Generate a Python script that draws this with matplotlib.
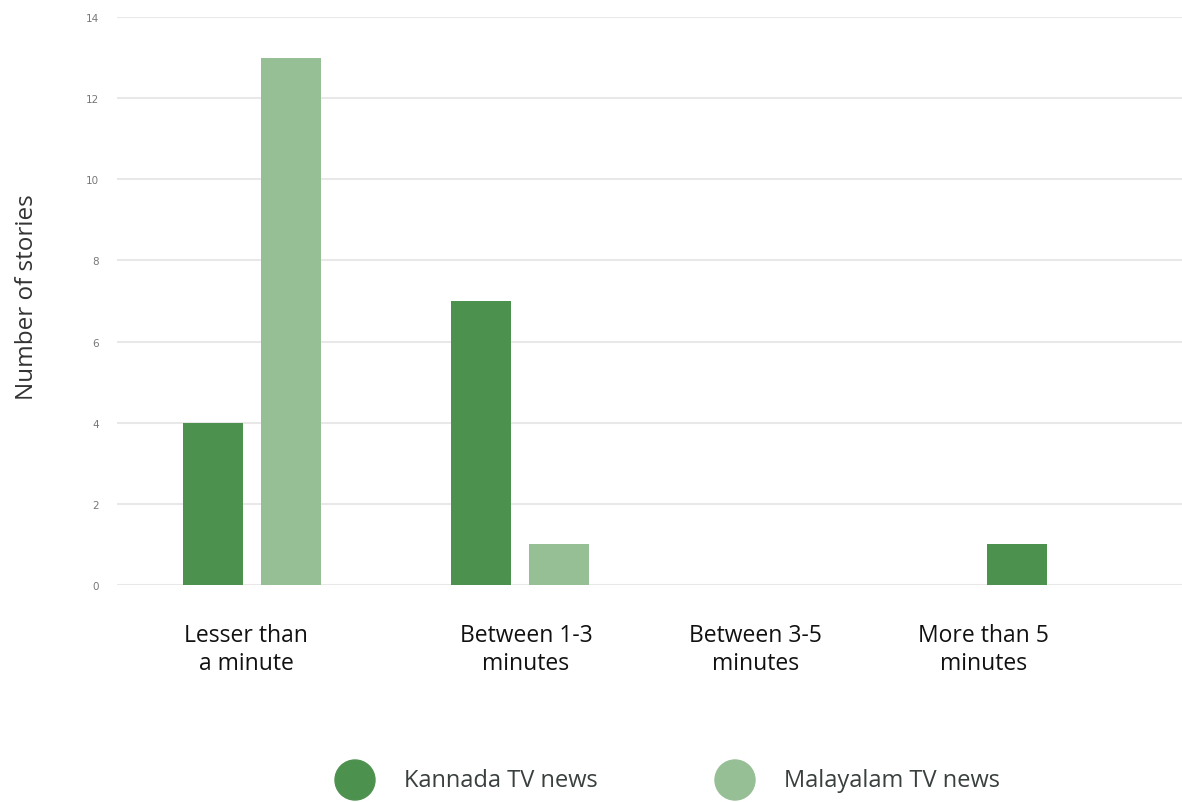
import numpy as np
import matplotlib.pyplot as plt
from matplotlib.patches import Ellipse

categories = ["Lesser than\na minute", "Between 1-3\nminutes", "Between 3-5\nminutes", "More than 5\nminutes"]
kannada = [4, 7, 0, 1]
malayalam = [13, 1, 0, 0]
series_names = ["Kannada TV news", "Malayalam TV news"]
yticks = [0, 2, 4, 6, 8, 10, 12, 14]

dark_green = "#4d914f"
light_green = "#96bf95"

plt.rcParams['font.family'] = ['Open Sans', 'DejaVu Sans']

fig = plt.figure(figsize=(11.82, 8.03), dpi=100)
ax = fig.add_axes([0.099, 0.2702, 0.901, 0.7074])

x = np.arange(len(categories))
w = 0.224
ax.bar(x - 0.145, kannada, width=w, color=dark_green, zorder=3)
ax.bar(x + 0.145, malayalam, width=w, color=light_green, zorder=3)

ax.set_xlim(-0.504, 3.47)
ax.set_ylim(0, 14)
ax.set_yticks(yticks)
ax.set_yticklabels([str(t) for t in yticks], fontsize=7.5, color="#777777", family="DejaVu Sans")
ax.tick_params(axis="y", length=0, pad=13)
ax.grid(axis="y", color="#e8e8e8", linewidth=1.5, zorder=0)
for s in ax.spines.values():
    s.set_visible(False)

# category labels sit a bit off the bar groups in the original
label_x = [-0.022, 1.022, 1.877, 2.728]
ax.set_xticks(label_x)
ax.set_xticklabels(categories, fontsize=16.5, color="#111111", linespacing=1.22)
ax.tick_params(axis="x", length=0, pad=27.5)

ax.set_ylabel("Number of stories", fontsize=17.5, color="#333333")
ax.yaxis.set_label_coords(-0.073, 0.509)

# legend
leg_x = [355 / 1182, 735 / 1182]
leg_y = 1 - 781 / 803
for lx, name, col in zip(leg_x, series_names, [dark_green, light_green]):
    fig.patches.append(Ellipse((lx, leg_y), 40 / 1182, 40 / 803, color=col,
                               transform=fig.transFigure))
    fig.text(lx + 49 / 1182, leg_y, name, fontsize=17, color="#3a3f3f", va="center", ha="left")

fig.savefig("out.png", dpi=100)
